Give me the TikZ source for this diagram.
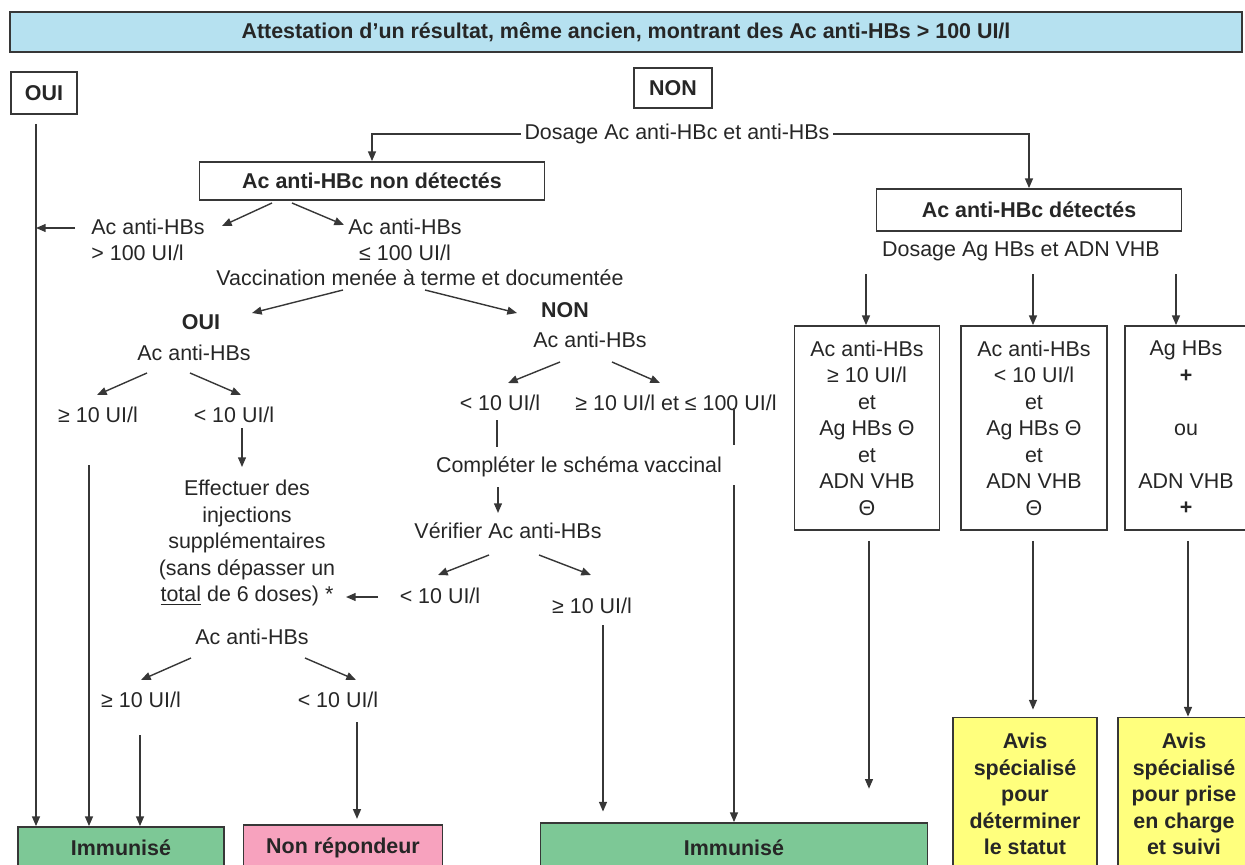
\documentclass[tikz,border=0pt]{standalone}
\usepackage{fontspec}
\setmainfont{Liberation Sans}
\usetikzlibrary{arrows.meta, calc}
\definecolor{figK}{RGB}{55,55,55}
\definecolor{figBlue}{RGB}{182,225,240}
\definecolor{figGreen}{RGB}{125,200,150}
\definecolor{figPink}{RGB}{247,162,190}
\definecolor{figYel}{RGB}{255,255,125}
\tikzset{txt/.style={font=\fontsize{12.2}{15.1}\selectfont, text=black!85, align=center, inner sep=2pt},
  btxt/.style={txt, font=\fontsize{12.2}{15.1}\selectfont\bfseries},
  framed/.style={draw=figK, line width=1pt},
  arr/.style={draw=figK, line width=0.8pt, -{Triangle[length=5.5pt,width=4.5pt]}},
  ln/.style={draw=figK, line width=0.8pt}}

\begin{document}
\begin{tikzpicture}[x=0.02cm, y=-0.02cm]
\useasboundingbox (0,0) rectangle (1245,865);
% head of the chart
\node[btxt, framed, fill=figBlue, minimum width=24.64cm, minimum height=0.8cm] (head) at (626,32) {Attestation d’un résultat, même ancien, montrant des Ac anti-HBs > 100 UI/l};
\node[btxt, framed, minimum width=1.32cm, minimum height=0.84cm] (oui) at (44,93) {OUI};
\node[btxt, framed, minimum width=1.56cm, minimum height=0.8cm] (non) at (673,88) {NON};
\node[txt] (dosA) at (677,134) {Dosage Ac anti-HBc et anti-HBs};
\node[btxt, framed, minimum width=6.9cm, minimum height=0.76cm] (nondet) at (372,181) {Ac anti-HBc non détectés};
\node[btxt, framed, minimum width=6.1cm, minimum height=0.84cm] (det) at (1029,210) {Ac anti-HBc détectés};
% anti-HBc not detected
\node[txt, align=left] (a100) at (148,240) {Ac anti-HBs\\> 100 UI/l};
\node[txt] (b100) at (405,240) {Ac anti-HBs\\≤ 100 UI/l};
\node[txt] (vacc) at (420,278) {Vaccination menée à terme et documentée};
\node[btxt] (oui2) at (201,322) {OUI};
\node[txt] (acb1) at (194,353) {Ac anti-HBs};
\node[txt] (ge1) at (98,415) {≥ 10 UI/l};
\node[txt] (lt1) at (234,415) {< 10 UI/l};
\node[txt] (eff) at (247,543) {Effectuer des\\injections\\supplémentaires\\(sans dépasser un\\\underline{total} de 6 doses) *};
\node[txt] (acb3) at (252,637) {Ac anti-HBs};
\node[txt] (ge3) at (141,700) {≥ 10 UI/l};
\node[txt] (lt3) at (338,700) {< 10 UI/l};
\node[btxt] (non2) at (565,310) {NON};
\node[txt] (acb2) at (590,340) {Ac anti-HBs};
\node[txt] (lt4) at (500,403) {< 10 UI/l};
\node[txt] (ge4) at (676,403) {≥ 10 UI/l et ≤ 100 UI/l};
\node[txt] (comp) at (579,467) {Compléter le schéma vaccinal};
\node[txt] (verif) at (508,531) {Vérifier Ac anti-HBs};
\node[txt] (lt2) at (440,596) {< 10 UI/l};
\node[txt] (ge5) at (592,606) {≥ 10 UI/l};
% anti-HBc detected
\node[txt] (dosB) at (1021,251) {Dosage Ag HBs et ADN VHB};
\node[txt, framed, minimum width=2.9cm, minimum height=4.08cm] (r1) at (867,428) {Ac anti-HBs\\≥ 10 UI/l\\et\\Ag HBs Θ\\et\\ADN VHB\\Θ};
\node[txt, framed, minimum width=2.92cm, minimum height=4.08cm] (r2) at (1034,428) {Ac anti-HBs\\< 10 UI/l\\et\\Ag HBs Θ\\et\\ADN VHB\\Θ};
\node[txt, framed, minimum width=2.44cm, minimum height=4.08cm] (r3) at (1186,428) {Ag HBs\\\textbf{+}\\\mbox{}\\ou\\\mbox{}\\ADN VHB\\\textbf{+}};
% outcomes
\node[btxt, framed, fill=figGreen, minimum width=4.12cm, minimum height=0.84cm] (immA) at (121,848) {Immunisé};
\node[btxt, framed, fill=figPink, minimum width=3.98cm, minimum height=0.92cm] (pink) at (343,848) {Non répondeur};
\node[btxt, framed, fill=figGreen, minimum width=7.74cm, minimum height=1.0cm] (immB) at (734,848) {Immunisé};
\node[btxt, framed, fill=figYel, minimum width=2.88cm, minimum height=3.06cm] (yel1) at (1025,794) {Avis\\spécialisé\\pour\\déterminer\\le statut};
\node[btxt, framed, fill=figYel, minimum width=2.64cm, minimum height=3.06cm] (yel2) at (1184,794) {Avis\\spécialisé\\pour prise\\en charge\\et suivi};
% connectors
\draw[arr] (dosA.west) -| (nondet.north);
\draw[arr] (dosA.east) -| (det.north);
\coordinate (ouiL) at ($(oui.south)+(-8,9)$);
\draw[arr] (ouiL) -- (ouiL |- immA.north);
\coordinate (a100w) at ($(a100)+(-73,-12)$);
\draw[arr] (a100w) -- (a100w -| ouiL);
\draw[arr] ($(nondet)+(-100,22)$) -- ($(a100)+(74,-14)$);
\draw[arr] ($(nondet)+(-80,22)$) -- ($(b100)+(-61,-15)$);
\draw[arr] ($(vacc)+(-77,12)$) -- ($(oui2)+(51,-9)$);
\draw[arr] ($(vacc)+(5,12)$) -- ($(non2)+(-48,3)$);
\draw[arr] ($(acb1)+(-47,20)$) -- ($(ge1)+(-1,-20)$);
\draw[arr] ($(acb1)+(-4,20)$) -- ($(lt1)+(7,-20)$);
\draw[arr] ($(lt1)+(8,13)$) -- ($(eff)+(-5,-76)$);
\coordinate (ge1d) at ($(ge1)+(-9,50)$);
\draw[arr] (ge1d) -- (ge1d |- immA.north);
\draw[arr] ($(lt2)+(-62,1)$) -- ($(eff)+(99,54)$);
\draw[arr] ($(acb3)+(-61,21)$) -- ($(ge3)+(0,-20)$);
\draw[arr] ($(acb3)+(53,21)$) -- ($(lt3)+(18,-20)$);
\coordinate (ge3d) at ($(ge3)+(-1,35)$);
\draw[arr] (ge3d) -- (ge3d |- immA.north);
\coordinate (lt3d) at ($(lt3)+(19,22)$);
\draw[arr, shorten >=3pt] (lt3d) -- (lt3d |- pink.north);
\draw[arr] ($(acb2)+(-30,22)$) -- ($(lt4)+(8,-20)$);
\draw[arr] ($(acb2)+(22,22)$) -- ($(ge4)+(-16,-20)$);
\draw[ln] ($(lt4)+(-3,17)$) -- ($(comp)+(-82,-20)$);
\draw[arr] ($(comp)+(-81,20)$) -- ($(verif)+(-10,-18)$);
\draw[arr] ($(verif)+(-19,24)$) -- ($(lt2)+(-2,-21)$);
\draw[arr] ($(verif)+(31,24)$) -- ($(ge5)+(-1,-31)$);
\coordinate (ge5d) at ($(ge5)+(11,19)$);
\draw[arr, shorten >=6pt] (ge5d) -- (ge5d |- immB.north);
\draw[ln] ($(ge4)+(58,5)$) -- ($(ge4)+(58,42)$);
\coordinate (ge4d) at ($(ge4)+(58,82)$);
\draw[arr] (ge4d) -- (ge4d |- immB.north);
\draw[arr] ($(r1.north)+(-1,-51)$) -- ($(r1.north)+(-1,0)$);
\draw[arr] ($(r2.north)+(-1,-51)$) -- ($(r2.north)+(-1,0)$);
\draw[arr] ($(r3.north)+(-10,-51)$) -- ($(r3.north)+(-10,0)$);
\coordinate (r1d) at ($(r1.south)+(2,10)$);
\draw[arr, shorten >=19pt] (r1d) -- (r1d |- immB.north);
\coordinate (r2d) at ($(r2.south)+(-1,10)$);
\draw[arr, shorten >=4pt] (r2d) -- (r2d |- yel1.north);
\coordinate (r3d) at ($(r3.south)+(2,10)$);
\draw[arr] (r3d) -- (r3d |- yel2.north);
\end{tikzpicture}
\end{document}
